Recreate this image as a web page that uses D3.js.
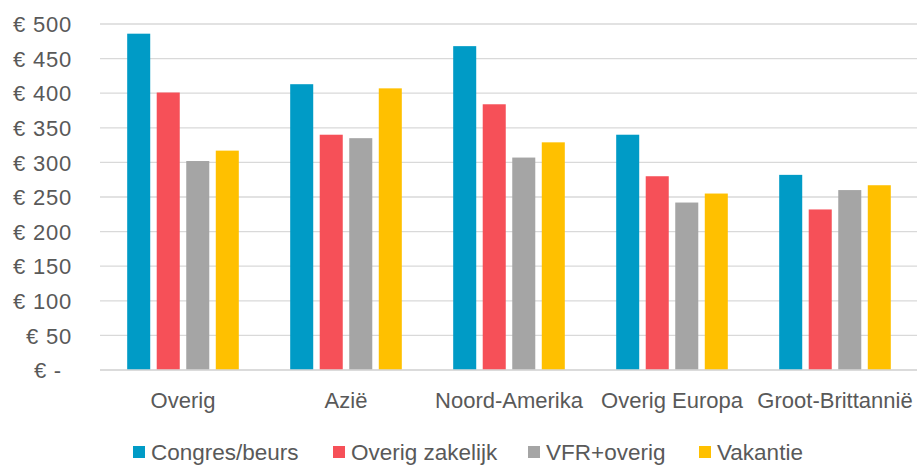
<!DOCTYPE html>
<html lang="nl">
  <head>
    <meta charset="utf-8">
    <title>Bestedingen per herkomst en reisdoel</title>
    <script src="https://d3js.org/d3.v7.min.js"></script>
    <style>
      body { margin: 0; background: #fff; }
      svg text { font-family: "Liberation Sans", Arial, sans-serif; fill: #595959; }
    </style>
  </head>
  <body>
    <svg id="chart" width="917" height="465"></svg>

    <script type="text/javascript">
      // data
      var categories = ["Overig", "Azië", "Noord-Amerika", "Overig Europa", "Groot-Brittannië"];
      var series = ["Congres/beurs", "Overig zakelijk", "VFR+overig", "Vakantie"];
      var congres = [486, 413, 468, 340, 282];
      var zakelijk = [401, 340, 384, 280, 232];
      var vfr = [302, 335, 307, 242, 260];
      var vakantie = [317, 407, 329, 255, 267];
      var yTicks = [0, 50, 100, 150, 200, 250, 300, 350, 400, 450, 500];
      var colors = ["#009BC6", "#F65058", "#A5A5A5", "#FFC000"];

      var values = [congres, zakelijk, vfr, vakantie];
      var rows = categories.map(function(c, i) {
        return { cat: c, vals: series.map(function(s, j) { return { key: s, value: values[j][i] }; }) };
      });

      var svg = d3.select("svg#chart");
      var plotLeft = 101.5, plotRight = 916.5, plotTop = 24, plotBottom = 370;

      var x0 = d3.scaleBand().domain(categories).range([plotLeft, plotRight]).padding(0);
      var x1 = d3.scaleBand().domain(series).range([0, x0.bandwidth()])
                 .paddingInner(0.22).paddingOuter(0.87);
      var y = d3.scaleLinear().domain([0, 500]).range([plotBottom, plotTop]);
      var color = d3.scaleOrdinal().domain(series).range(colors);

      // gridlines
      svg.append("g").selectAll("line").data(yTicks).enter().append("line")
        .attr("x1", 100).attr("x2", 917)
        .attr("y1", d => y(d)).attr("y2", d => y(d))
        .attr("stroke", "#D9D9D9").attr("stroke-width", 1.3);

      // y labels
      var yAxis = d3.axisLeft(y).tickValues(yTicks).tickSize(0).tickPadding(0)
        .tickFormat(d => d === 0 ? "€ -" : "€ " + d);
      var gy = svg.append("g").attr("transform", "translate(72,0)").call(yAxis);
      gy.select(".domain").remove();
      gy.selectAll("text").style("font-size", "22px").style("letter-spacing", "0.8px")
        .attr("dx", d => d === 0 ? -10 : 0).attr("dy", "0.35em");

      // bars
      var groups = svg.append("g").selectAll("g").data(rows).enter().append("g")
        .attr("transform", d => "translate(" + x0(d.cat) + ",0)");
      groups.selectAll("rect").data(d => d.vals).enter().append("rect")
        .attr("x", d => x1(d.key))
        .attr("y", d => y(d.value))
        .attr("width", x1.bandwidth())
        .attr("height", d => y(0) - y(d.value))
        .attr("fill", d => color(d.key));

      // baseline
      svg.append("line").attr("x1", 100).attr("x2", 917)
        .attr("y1", y(0)).attr("y2", y(0))
        .attr("stroke", "#D9D9D9").attr("stroke-width", 1.5);

      // category labels
      var xAxis = d3.axisBottom(x0).tickSize(0).tickPadding(0);
      var gx = svg.append("g").attr("transform", "translate(0," + plotBottom + ")").call(xAxis);
      gx.select(".domain").remove();
      gx.selectAll("text").style("font-size", "22px").attr("y", 38).attr("dy", 0);

      // legend
      var legendX = [133, 333, 528, 699];
      var legend = svg.append("g").selectAll("g").data(series).enter().append("g")
        .attr("transform", (d, i) => "translate(" + legendX[i] + ",446)");
      legend.append("rect").attr("width", 12).attr("height", 12).attr("fill", d => color(d));
      legend.append("text").attr("x", 18).attr("y", 13.5)
        .style("font-size", "22.5px").text(d => d);
    </script>
  </body>
</html>
